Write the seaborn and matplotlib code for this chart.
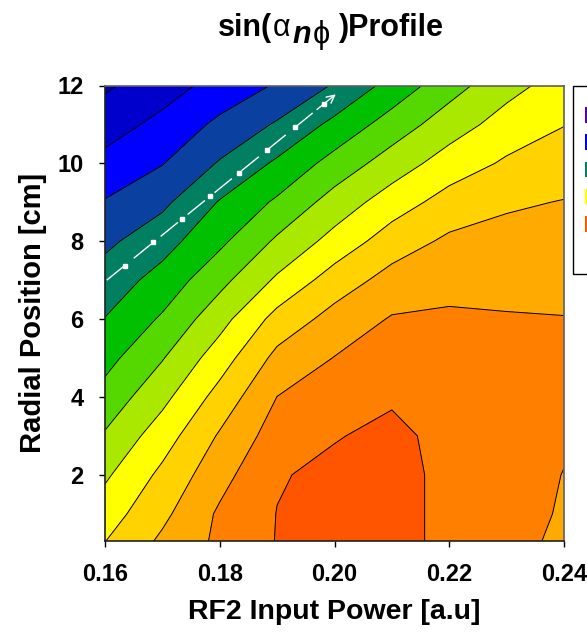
import numpy as np
import pandas as pd
import matplotlib
matplotlib.use("Agg")
import matplotlib.pyplot as plt
from matplotlib.patches import Patch
import seaborn as sns

# ---------------- data ----------------
rf2_power = [0.16, 0.17, 0.18, 0.19, 0.20, 0.21, 0.22, 0.23, 0.24]
radial_position = [12, 11, 10, 9, 8, 7, 6, 5, 4, 3, 2, 1, 0.3]   # rows, top -> bottom

# profile value (contour-band units) per RF2 power column, rows as radial_position
profile_016 = [0.85, 1.56, 2.29, 3.07, 3.79, 4.43, 5.03, 5.67, 6.36, 7.11, 7.84, 8.52, 8.98]
profile_017 = [1.56, 2.27, 2.96, 3.79, 4.60, 5.38, 6.13, 6.94, 7.72, 8.53, 9.23, 9.77, 10.18]
profile_018 = [2.35, 3.22, 4.09, 5.07, 5.79, 6.70, 7.63, 8.52, 9.37, 10.11, 10.65, 11.15, 11.20]
profile_019 = [3.10, 4.11, 5.16, 6.16, 7.16, 8.16, 9.35, 10.28, 11.01, 11.47, 11.93, 12.02, 12.04]
profile_020 = [4.09, 5.25, 6.38, 7.41, 8.35, 9.47, 10.36, 11.03, 11.50, 11.95, 12.20, 12.20, 12.20]
profile_021 = [5.34, 6.45, 7.46, 8.50, 9.50, 10.36, 11.08, 11.47, 11.90, 12.20, 12.20, 12.20, 12.20]
profile_022 = [6.60, 7.51, 8.46, 9.40, 10.18, 10.69, 11.15, 11.35, 11.55, 11.75, 11.85, 11.85, 11.85]
profile_023 = [7.65, 8.42, 9.14, 9.87, 10.32, 10.71, 11.07, 11.20, 11.25, 11.25, 11.18, 11.12, 11.08]
profile_024 = [8.45, 8.97, 9.52, 10.04, 10.37, 10.70, 11.03, 11.12, 11.13, 11.05, 10.99, 10.97, 10.95]

level_edges = list(range(0, 14))
band_colors = ["#0000A8", "#0000CC", "#0000FF", "#0A40A0", "#008060", "#00C000",
               "#55D800", "#AAE800", "#FFFF00", "#FFD200", "#FFAA00", "#FF8000", "#FF5500"]

xtick_values = [0.16, 0.18, 0.20, 0.22, 0.24]
xtick_labels = ["0.16", "0.18", "0.20", "0.22", "0.24"]
ytick_values = [2, 4, 6, 8, 10, 12]
ytick_labels = ["2", "4", "6", "8", "10", "12"]

legend_colors = ["#5A00A0", "#0000F0", "#008060", "#FFFF00", "#FF5500", "none"]

arrow_start = [0.1603, 7.0]
arrow_end = [0.2006, 11.82]

# title pieces: text, weight, style, lowered by (px)
title_pieces = [("sin(", "bold", "normal", 0), ("\u03b1", "normal", "normal", 0),
                ("n", "bold", "italic", 7), ("\u03d5", "normal", "normal", 7),
                (")Profile", "bold", "normal", 0)]
title_gaps = [1, 2, 1, 9, 0]

# ---------------- build grid ----------------
columns = [profile_016, profile_017, profile_018, profile_019, profile_020,
           profile_021, profile_022, profile_023, profile_024]
df = pd.DataFrame(np.array(columns).T, index=radial_position, columns=rf2_power)
df = df.sort_index()
X, Y = np.meshgrid(df.columns.values.astype(float), df.index.values.astype(float))
Z = df.values

# ---------------- style ----------------
sns.set_style("ticks")
plt.rcParams["font.family"] = ["Liberation Sans", "DejaVu Sans"]
for k in ["text.color", "axes.labelcolor", "xtick.color", "ytick.color"]:
    plt.rcParams[k] = "black"

W, H = 587, 637
fig = plt.figure(figsize=(W / 100, H / 100), dpi=100)
ax = fig.add_axes([105 / W, 1 - 541 / H, (564 - 105) / W, (541 - 85.5) / H])

ax.contourf(X, Y, Z, levels=level_edges, colors=band_colors)
ax.contour(X, Y, Z, levels=level_edges[1:-1], colors="black", linewidths=0.7)

# dashed white arrow
t = np.linspace(0, 1, 50)
lx = arrow_start[0] + (arrow_end[0] - arrow_start[0]) * t
ly = arrow_start[1] + (arrow_end[1] - arrow_start[1]) * t
ax.plot(lx[:-3], ly[:-3], color="white", lw=1.0, dashes=(16, 9))
fr = np.arange(0.078, 0.95, 0.123)
ax.plot(arrow_start[0] + (arrow_end[0] - arrow_start[0]) * fr,
        arrow_start[1] + (arrow_end[1] - arrow_start[1]) * fr,
        ls="none", marker="s", ms=2.6, color="white")
ax.annotate("", xy=arrow_end,
            xytext=(arrow_start[0] + (arrow_end[0] - arrow_start[0]) * 0.9,
                    arrow_start[1] + (arrow_end[1] - arrow_start[1]) * 0.9),
            arrowprops=dict(arrowstyle="->", color="white", lw=1.0, mutation_scale=14))

ax.set_xlim(0.16, 0.24)
ax.set_ylim(0.3, 12)
ax.set_xticks(xtick_values)
ax.set_xticklabels(xtick_labels, fontweight="bold")
ax.set_yticks(ytick_values)
ax.set_yticklabels(ytick_labels, fontweight="bold")
ax.tick_params(axis="both", direction="out", length=4.5, width=1, labelsize=17,
               pad=11, color="black")
for name, s in ax.spines.items():
    s.set_color("#606060" if name in ("top", "right") else "#202020")
    s.set_linewidth(1.2)

ax.set_xlabel("RF2 Input Power [a.u]", fontsize=20.5, fontweight="bold", labelpad=10)
ax.set_ylabel("Radial Position [cm]", fontsize=21, fontweight="bold", labelpad=7)

# title built from pieces so the subscript keeps full size
renderer = fig.canvas.get_renderer()
xpos = 218.0
for (txt, wt, st, low), gap in zip(title_pieces, title_gaps):
    tt = fig.text(xpos / W, 1 - (36 + low) / H, txt, ha="left", va="baseline",
                  fontsize=22, fontweight=wt, fontstyle=st,
                  family=["Liberation Sans", "DejaVu Sans"])
    xpos += tt.get_window_extent(renderer).width + gap

handles = [Patch(facecolor=c, edgecolor="none") for c in legend_colors]
leg = ax.legend(handles, [""] * len(handles), loc="upper left",
                bbox_to_anchor=(1.0203, 1.0), borderaxespad=0, frameon=True,
                fancybox=False, fontsize=14, handlelength=1.5, handleheight=0.86,
                labelspacing=0.45, borderpad=0.6, handletextpad=0.5,
                title=" ", title_fontsize=1.0)
leg.get_frame().set_edgecolor("black")
leg.get_frame().set_linewidth(1.0)
leg.get_frame().set_alpha(1)

fig.savefig("out.png", dpi=100)
